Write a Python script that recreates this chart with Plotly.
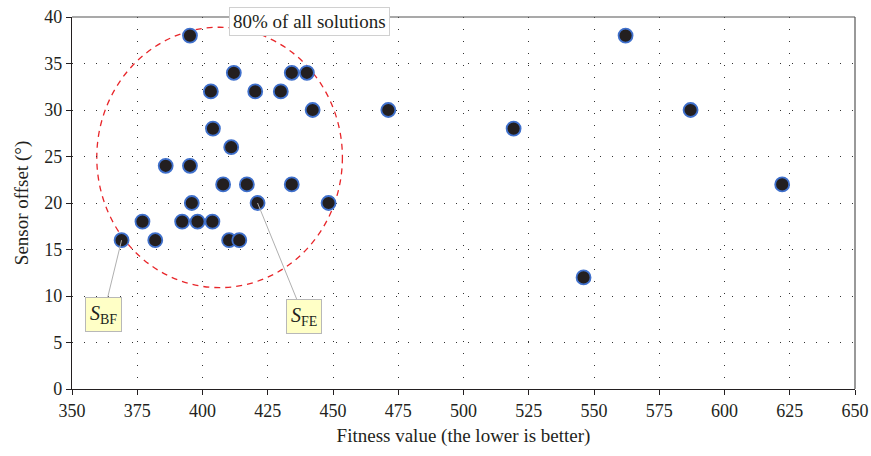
import plotly.graph_objects as go

# Fitness value and sensor offset of every solution found
fitness = [395.2, 412.0, 434.2, 440.0, 403.2, 420.2, 430.0, 442.2, 471.2,
           404.0, 411.0, 385.9, 395.2, 407.9, 417.0, 434.2, 395.9, 421.1,
           448.3, 377.0, 392.2, 398.1, 403.8, 369.0, 381.9, 410.2, 414.1,
           562.1, 587.0, 519.2, 622.1, 546.0]
offset = [38, 34, 34, 34, 32, 32, 32, 30, 30,
          28, 26, 24, 24, 22, 22, 22, 20, 20,
          20, 18, 18, 18, 18, 16, 16, 16, 16,
          38, 30, 28, 22, 12]

# Region holding 80% of all solutions (x0, x1, y0, y1)
region = [359.5, 453.6, 10.9, 38.9]

# Labelled solutions: best fitness (S_BF) and fitness-equivalent (S_FE)
labels = ["<i>S</i><sub>BF</sub>", "<i>S</i><sub>FE</sub>"]
label_x = [369.0, 421.1]
label_y = [16, 20]
label_ax = [-18, 46]
label_ay = [74, 113]

x_ticks = list(range(350, 651, 25))
y_ticks = list(range(0, 41, 5))

FONT = "Liberation Serif"
TEXT = "#231f20"

fig = go.Figure()

fig.add_shape(type="circle", xref="x", yref="y",
              x0=region[0], x1=region[1], y0=region[2], y1=region[3],
              line=dict(color="#e8262a", width=1.3, dash="6px,5px"), layer="below")

fig.add_trace(go.Scatter(
    x=fitness, y=offset, mode="markers",
    marker=dict(size=14, color="#231f20", line=dict(color="#3f70cc", width=1.8)),
    showlegend=False, hoverinfo="x+y"))

# Top and right frame lines
fig.add_shape(type="line", xref="paper", yref="paper", x0=0, x1=1, y0=1, y1=1,
              line=dict(color="#555555", width=1.2))
fig.add_shape(type="line", xref="paper", yref="paper", x0=1, x1=1, y0=0, y1=1,
              line=dict(color="#555555", width=1.2))

fig.add_annotation(text="80% of all solutions", x=440.9, y=39.5, xref="x", yref="y",
                   showarrow=False, bgcolor="white", bordercolor="#d0d0d0",
                   borderwidth=1, borderpad=3,
                   font=dict(family=FONT, size=19, color=TEXT))

for txt, lx, ly, ax, ay in zip(labels, label_x, label_y, label_ax, label_ay):
    fig.add_annotation(text=txt, x=lx, y=ly, xref="x", yref="y",
                       showarrow=True, arrowhead=0, arrowwidth=1,
                       arrowcolor="#b0b0b0", ax=ax, ay=ay, standoff=0,
                       bgcolor="#ffffc6", bordercolor="#b8b8b8", borderwidth=1,
                       borderpad=4, font=dict(family=FONT, size=20, color=TEXT))

fig.update_xaxes(range=[350, 650], tickvals=x_ticks, ticks="outside", ticklen=5,
                 tickcolor="#231f20", showline=True, linecolor="#231f20", linewidth=1.2,
                 showgrid=True, gridcolor="#333333", gridwidth=1, griddash="1px,11px",
                 zeroline=False, automargin=False,
                 title=dict(text="Fitness value (the lower is better)",
                            font=dict(family=FONT, size=19, color=TEXT), standoff=8),
                 tickfont=dict(family=FONT, size=18, color=TEXT))
fig.update_yaxes(range=[0, 40], tickvals=y_ticks, ticks="outside", ticklen=5,
                 tickcolor="#231f20", showline=True, linecolor="#231f20", linewidth=1.2,
                 showgrid=True, gridcolor="#333333", gridwidth=1, griddash="1px,11px",
                 zeroline=False, automargin=False,
                 title=dict(text="Sensor offset (°)",
                            font=dict(family=FONT, size=19, color=TEXT), standoff=10),
                 tickfont=dict(family=FONT, size=18, color=TEXT))

fig.update_layout(width=871, height=456, margin=dict(l=72, r=16, t=17, b=67),
                  paper_bgcolor="white", plot_bgcolor="white")

fig.write_html("out.html")
